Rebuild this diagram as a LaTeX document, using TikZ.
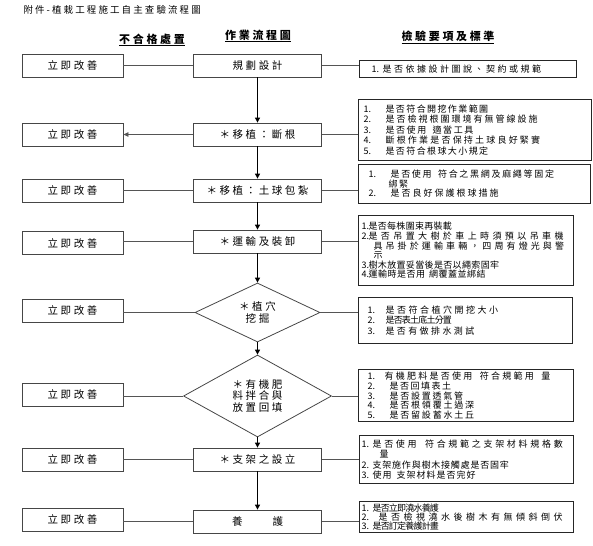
\documentclass[tikz,border=0pt]{standalone}
\usepackage{fontspec}
\setmainfont{Noto Sans CJK TC}
\newfontfamily\wideCJK{Noto Sans CJK TC}[LetterSpace=24]
\newfontfamily\chkCJK{Noto Sans CJK TC}
\definecolor{boxgray}{RGB}{70,70,70}
\definecolor{linegray}{RGB}{85,85,85}
\usetikzlibrary{arrows.meta,shapes.geometric}
% spread the characters of #2 by #1
\makeatletter
\newcommand{\spread}[2]{\def\spr@gap{\hspace{#1}}\spr@loop#2\@nil}
\def\spr@loop#1{\ifx#1\@nil\else#1\spr@gap\expandafter\spr@loop\fi}
\makeatother
% indent, number column, number, gap, text
\newcommand{\chkline}[5]{\hspace*{#1pt}\makebox[#2pt][l]{#3}\spread{#4pt}{#5}}

\begin{document}
\begin{tikzpicture}[x=10pt,y=-10pt,
  fixbox/.style={draw=boxgray,line width=0.8pt,minimum width=101pt,minimum height=23pt,inner sep=0pt,font=\wideCJK\fontsize{10.5}{12}\selectfont},
  stepbox/.style={draw=boxgray,line width=0.8pt,minimum width=128pt,minimum height=23pt,inner sep=0pt,font=\wideCJK\fontsize{10.5}{12}\selectfont},
  stepdia/.style={draw=boxgray,line width=0.8pt,diamond,inner sep=0pt,align=center,font=\wideCJK\fontsize{10.5}{11.3}\selectfont},
  chkbox/.style={draw=black!85,line width=1.1pt,anchor=north west,align=left,inner xsep=2pt,inner ysep=2pt,font=\chkCJK\fontsize{9}{10.5}\selectfont},
  link/.style={draw=linegray,line width=0.8pt},
  flow/.style={draw=black,line width=1pt,-{Triangle[length=5pt,width=5pt]}},
  head/.style={font=\wideCJK\bfseries\fontsize{11}{13}\selectfont}]
  \useasboundingbox (0,0) rectangle (59.3,54.5);
  % title and column heads
  \node[anchor=west,font=\chkCJK\fontsize{9.5}{11}\selectfont] (title) at (2.0,1.0) {\spread{2.1pt}{附件-植栽工程施工自主查驗流程圖}};
  \node[head] (hfix) at (15.2,4.0) {\underline{不合格處置}};
  \node[head] (hstep) at (25.8,3.6) {\underline{作業流程圖}};
  \node[head] (hchk) at (44.8,3.7) {\underline{檢驗要項及標準}};
  % flow column
  \node[stepbox] (s1) at (25.75,6.55) {規劃設計};
  \node[stepbox] (s2) at (25.75,13.45) {＊移植：斷根};
  \node[stepbox] (s3) at (25.75,19.05) {＊移植：土球包紮};
  \node[stepbox] (s4) at (25.75,24.15) {＊運輸及裝卸};
  \node[stepdia,minimum width=125pt,minimum height=59pt,aspect=2.1] (s5) at (25.75,31.25) {＊植穴\\挖掘};
  \node[stepdia,minimum width=148pt,minimum height=82pt,aspect=1.8] (s6) at (25.75,39.6) {＊有機肥\\料拌合與\\放置回填};
  \node[stepbox] (s7) at (25.75,45.95) {＊支架之設立};
  \node[stepbox] (s8) at (25.75,52.15) {養\hspace{30pt}護};
  % fix column
  \foreach \i/\y in {1/6.55,2/13.5,3/19.05,4/24.3,5/31.05,6/39.45,7/45.95,8/51.95}
    \node[fixbox] (f\i) at (7.25,\y) {立即改善};
  % check column
  \node[chkbox,text width=213pt,minimum height=17pt] (c1) at (35.9,6.0) {\chkline{10}{11}{1.}{2.5}{是否依據設計圖說、契約或規範}};
  \node[chkbox,text width=229pt,minimum height=61pt] (c2) at (35.8,9.9) {%
    \chkline{3}{22}{1.}{1.4}{是否符合開挖作業範圍}\\
    \chkline{3}{22}{2.}{2.0}{是否檢視根圍環境有無管線設施}\\
    \chkline{3}{22}{3.}{1.6}{是否使用~適當工具}\\
    \chkline{3}{22}{4.}{2.2}{斷根作業是否保持土球良好緊實}\\
    \chkline{3}{22}{5.}{1.4}{是否符合根球大小規定}};
  \node[chkbox,text width=228pt,minimum height=39pt,font=\chkCJK\fontsize{9}{9.5}\selectfont] (c3) at (35.8,16.4) {%
    \chkline{8}{22}{1.}{1.7}{是否使用~符合之黑網及麻繩等固定}\\
    \chkline{28}{0}{}{1.7}{綁緊}\\
    \chkline{8}{22}{2.}{2.0}{是否良好保護根球措施}};
  \node[chkbox,text width=211pt,minimum height=70pt,font=\chkCJK\fontsize{9}{9.6}\selectfont] (c4) at (35.8,21.5) {%
    \chkline{1}{7}{1.}{0.3}{是否每株圍束再裝載}\\
    \chkline{1}{7}{2.}{3.4}{是否吊置大樹於車上時須預以吊車機}\\
    \chkline{13}{0}{}{3.1}{具吊掛於運輸車輛，四周有燈光與警}\\
    \chkline{13}{0}{}{0}{示}\\
    \chkline{1}{7}{3.}{0.35}{樹木放置妥當後是否以繩索固牢}\\
    \chkline{1}{7}{4.}{0.5}{運輸時是否用~網覆蓋並綁結}};
  \node[chkbox,text width=210pt,minimum height=46pt] (c5) at (35.8,29.7) {%
    \chkline{7}{18}{1.}{2.5}{是否符合植穴開挖大小}\\
    \chkline{7}{18}{2.}{-0.8}{是否表土底土分置}\\
    \chkline{7}{18}{3.}{2.4}{是否有做排水測試}\\[6pt]};
  \node[chkbox,text width=211pt,minimum height=52pt,font=\chkCJK\fontsize{9}{9.8}\selectfont] (c6) at (35.8,36.9) {%
    \chkline{7}{17}{1.}{2.25}{有機肥料是否使用~符合規範用~量}\\
    \chkline{7}{22}{2.}{1.5}{是否回填表土}\\
    \chkline{7}{22}{3.}{1.75}{是否設置透氣管}\\
    \chkline{7}{22}{4.}{1.8}{是否根領覆土過深}\\
    \chkline{7}{22}{5.}{1.8}{是否留設蓄水土丘}};
  \node[chkbox,text width=210pt,minimum height=48pt] (c7) at (35.9,43.5) {%
    \chkline{0}{11}{1.}{2.7}{是否使用~符合規範之支架材料規格數}\\
    \chkline{18}{0}{}{0}{量}\\
    \chkline{0}{11}{2.}{0.8}{支架施作與樹木接觸處是否固牢}\\
    \chkline{0}{11}{3.}{1.0}{使用~支架材料是否完好}};
  \node[chkbox,text width=210pt,minimum height=31pt,font=\chkCJK\fontsize{9}{8.8}\selectfont] (c8) at (35.9,50.1) {%
    \chkline{0}{11}{1.}{-0.8}{是否立即澆水養護}\\
    \chkline{0}{17}{2.}{3.5}{是否檢視澆水後樹木有無傾斜倒伏}\\
    \chkline{0}{11}{3.}{-0.8}{是否訂定養護計畫}};
  % connectors
  \foreach \a/\b in {1/2,2/3,3/4,4/5,5/6,6/7,7/8}{\draw[flow] (s\a.south) -- (s\b.north);}
  \foreach \i in {1,3,4,5,6,7,8}{\draw[link] (s\i.west) -- (s\i.west -| f\i.east);}
  \draw[link,-{Triangle[length=5pt,width=4.5pt]}] (s2.west) -- (s2.west -| f2.east);
  \foreach \i in {1,...,8}{\draw[link] (s\i.east) -- (s\i.east -| c\i.west);}
\end{tikzpicture}
\end{document}
